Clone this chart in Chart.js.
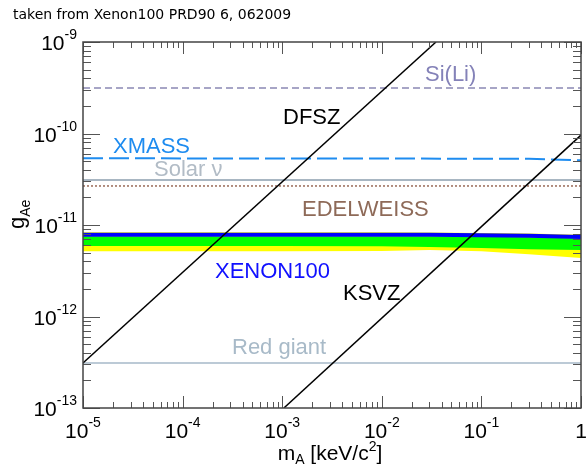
<!DOCTYPE html>
<html>
<head>
<meta charset="utf-8">
<script src="https://cdn.jsdelivr.net/npm/chart.js@4.4.1/dist/chart.umd.min.js"></script>
<style>
html,body{margin:0;padding:0;background:#fff;}
canvas{display:block;}
</style>
</head>
<body>
<canvas id="c" width="588" height="466"></canvas>
<script>
// ---- data ----
const chartTitle = 'taken from Xenon100 PRD90 6, 062009';
const xTickExps = [-5, -4, -3, -2, -1, 0];
const yTickExps = [-13, -12, -11, -10, -9];

const bandMass   = [1e-5, 1e-4, 1e-3, 1e-2, 3e-2, 1e-1, 3e-1, 1];
const xenonLimit = [7.8e-12, 7.8e-12, 7.8e-12, 7.8e-12, 7.8e-12, 7.75e-12, 7.65e-12, 7.4e-12];
const green1Up   = [7.5e-12, 7.5e-12, 7.5e-12, 7.5e-12, 7.5e-12, 7.45e-12, 7.35e-12, 7.1e-12];
const green1Low  = [5.9e-12, 5.9e-12, 5.9e-12, 5.85e-12, 5.75e-12, 5.6e-12, 5.42e-12, 5.32e-12];
const yellow2Up  = [8.35e-12, 8.35e-12, 8.35e-12, 8.35e-12, 8.3e-12, 8.2e-12, 8.05e-12, 7.8e-12];
const yellow2Low = [5.16e-12, 5.16e-12, 5.16e-12, 5.2e-12, 5.32e-12, 5.16e-12, 4.8e-12, 4.36e-12];

const dfszMass = [1e-5, 3.5e-2];
const dfszG    = [3.1e-13, 1e-9];
const ksvzMass = [1.04e-3, 1];
const ksvzG    = [1e-13, 9.6e-11];

const flatMass  = [1e-5, 1];
const siLiG     = [3.15e-10, 3.15e-10];
const solarG    = [3.1e-11, 3.1e-11];
const edelG     = [2.67e-11, 2.67e-11];
const redGiantG = [3.1e-13, 3.1e-13];
const xmassMass = [1e-5, 3e-1, 1];
const xmassG    = [5.36e-11, 5.3e-11, 5.1e-11];

const labelTexts = ['DFSZ', 'KSVZ', 'XMASS', 'Solar ν', 'EDELWEISS', 'Si(Li)', 'XENON100', 'Red giant'];

// ---- helpers ----
const pts = (xs, ys) => xs.map((x, i) => ({x: x, y: ys[i]}));
const FONT = '"Liberation Sans", Arial, sans-serif';

function lineDs(xs, ys, color, width, dash) {
  return {data: pts(xs, ys), borderColor: color, borderWidth: width, borderDash: dash || [],
          fill: false, pointRadius: 0, tension: 0};
}
function bandDs(xs, ys, color, fillTo) {
  return {data: pts(xs, ys), borderColor: 'rgba(0,0,0,0)', borderWidth: 0, backgroundColor: color,
          fill: fillTo === undefined ? false : fillTo, pointRadius: 0, tension: 0};
}

const datasets = [
  lineDs(dfszMass, dfszG, '#000000', 1.5),          // 0
  lineDs(ksvzMass, ksvzG, '#000000', 1.5),          // 1
  lineDs(bandMass, xenonLimit, '#0000ff', 4),       // 2
  lineDs(flatMass, siLiG, '#8a88b4', 1.5, [7, 4]),  // 3
  lineDs(xmassMass, xmassG, '#1e8cf0', 2, [20, 6]), // 4
  lineDs(flatMass, solarG, '#a8b6c2', 2),           // 5
  lineDs(flatMass, edelG, '#9a6a58', 1.5, [2, 2]),  // 6
  lineDs(flatMass, redGiantG, '#a6b8c8', 1.5),      // 7
  bandDs(bandMass, green1Up, '#00ff00', 9),         // 8
  bandDs(bandMass, green1Low, '#00ff00'),           // 9
  bandDs(bandMass, yellow2Up, '#ffff00', 11),       // 10
  bandDs(bandMass, yellow2Low, '#ffff00')           // 11
];

function drawPow(ctx, exp, x, y, align) {
  // y: baseline of "10"
  const big = '21px ' + FONT, small = '14px ' + FONT;
  const base = exp === 0 ? '1' : '10';
  const sup = exp === 0 ? '' : String(exp);
  ctx.font = big; const wb = ctx.measureText(base).width;
  ctx.font = small; const ws = sup ? ctx.measureText(sup).width : 0;
  const w = wb + ws;
  let x0 = align === 'right' ? x - w : x - w / 2;
  ctx.textAlign = 'left'; ctx.textBaseline = 'alphabetic';
  ctx.font = big; ctx.fillText(base, x0, y);
  if (sup) { ctx.font = small; ctx.fillText(sup, x0 + wb, y - 11); }
}

const decor = {
  id: 'decor',
  afterDraw(chart) {
    const ctx = chart.ctx, a = chart.chartArea;
    const xs = chart.scales.x, ys = chart.scales.y;
    ctx.save();
    // ticks (inward on all 4 sides)
    ctx.strokeStyle = '#555'; ctx.lineWidth = 1;
    ctx.beginPath();
    for (let e = -5; e < 0; e++) {
      for (let k = 1; k <= 10; k++) {
        const v = k * Math.pow(10, e);
        const px = Math.round(xs.getPixelForValue(v)) + 0.5;
        const len = (k === 1 || k === 10) ? 12 : 6;
        ctx.moveTo(px, a.bottom); ctx.lineTo(px, a.bottom - len);
        ctx.moveTo(px, a.top); ctx.lineTo(px, a.top + len);
      }
    }
    for (let e = -13; e < -9; e++) {
      for (let k = 1; k <= 10; k++) {
        const v = k * Math.pow(10, e);
        const py = Math.round(ys.getPixelForValue(v)) + 0.5;
        const len = (k === 1 || k === 10) ? 17 : 8;
        ctx.moveTo(a.left, py); ctx.lineTo(a.left + len, py);
        ctx.moveTo(a.right, py); ctx.lineTo(a.right - len, py);
      }
    }
    ctx.stroke();
    // frame
    ctx.strokeStyle = '#444'; ctx.lineWidth = 1.5;
    ctx.strokeRect(a.left, a.top, a.right - a.left, a.bottom - a.top);

    // tick labels
    ctx.fillStyle = '#000';
    xTickExps.forEach(e => drawPow(ctx, e, xs.getPixelForValue(Math.pow(10, e)), 438, 'center'));
    yTickExps.forEach(e => drawPow(ctx, e, 77, ys.getPixelForValue(Math.pow(10, e)) + 8, 'right'));

    // axis titles
    ctx.textAlign = 'left'; ctx.textBaseline = 'alphabetic';
    // x: m_A [keV/c^2], centred near x=330
    const bigF = '21px ' + FONT, smF = '14px ' + FONT;
    ctx.font = bigF; const w1 = ctx.measureText('m').width, w3 = ctx.measureText(' [keV/c').width, w5 = ctx.measureText(']').width;
    ctx.font = smF; const w2 = ctx.measureText('A').width, w4 = ctx.measureText('2').width;
    let x = 330 - (w1 + w2 + w3 + w4 + w5) / 2, y = 460;
    ctx.font = bigF; ctx.fillText('m', x, y); x += w1;
    ctx.font = smF; ctx.fillText('A', x, y + 4); x += w2;
    ctx.font = bigF; ctx.fillText(' [keV/c', x, y); x += w3;
    ctx.font = smF; ctx.fillText('2', x, y - 9); x += w4;
    ctx.font = bigF; ctx.fillText(']', x, y);
    // y: g_Ae (rotated)
    ctx.save();
    ctx.translate(24, 229); ctx.rotate(-Math.PI / 2);
    ctx.font = '22px ' + FONT; ctx.fillText('g', 0, 0);
    const gw = ctx.measureText('g').width;
    ctx.font = '14px ' + FONT; ctx.fillText('Ae', gw, 6);
    ctx.restore();

    // title
    ctx.font = '14px "DejaVu Sans", sans-serif'; ctx.fillStyle = '#000';
    ctx.fillText(chartTitle, 13, 19);

    // curve labels
    const lab = (t, x, y, c) => { ctx.font = '22px ' + FONT; ctx.fillStyle = c; ctx.fillText(t, x, y); };
    lab(labelTexts[0], 283, 124, '#000000');
    lab(labelTexts[1], 343, 300, '#000000');
    lab(labelTexts[2], 113, 153, '#1e8cf0');
    lab(labelTexts[3], 154, 176, '#b2bcc6');
    lab(labelTexts[4], 302, 216, '#8e6a58');
    lab(labelTexts[5], 425, 81, '#8482b8');
    lab(labelTexts[6], 215, 278, '#1010ff');
    lab(labelTexts[7], 232, 354, '#a8bac8');
    ctx.restore();
  }
};

new Chart(document.getElementById('c'), {
  type: 'line',
  data: {datasets: datasets},
  options: {
    responsive: false, animation: false, devicePixelRatio: 1,
    layout: {padding: {left: 83, right: 7, top: 42, bottom: 58}},
    plugins: {legend: {display: false}, tooltip: {enabled: false}},
    scales: {
      x: {type: 'logarithmic', min: 1e-5, max: 1, display: false},
      y: {type: 'logarithmic', min: 1e-13, max: 1e-9, display: false}
    }
  },
  plugins: [decor]
});
</script>
</body>
</html>
